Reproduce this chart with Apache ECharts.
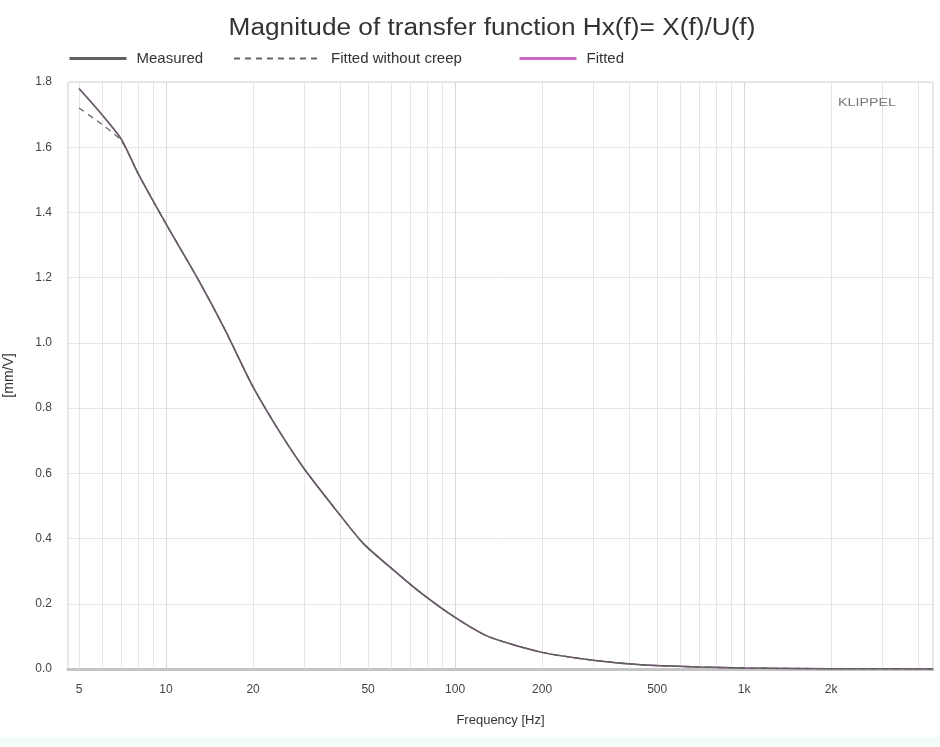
<!DOCTYPE html>
<html>
<head>
<meta charset="utf-8">
<script src="https://cdn.jsdelivr.net/npm/echarts@6/dist/echarts.min.js"></script>
<style>
html,body{margin:0;padding:0;background:#fff;}
#chart{width:940px;height:747px;}
</style>
</head>
<body>
<div id="chart"></div>
<script>
// Frequencies (Hz)
const freqs = [5, 6, 7, 8, 10, 13, 16, 20, 25, 30, 38, 48, 60, 75, 100, 130, 200, 300, 440, 700, 1000, 2000, 4500];
// Magnitude [mm/V]
const measured      = [1.78, 1.70, 1.625, 1.52, 1.365, 1.19, 1.04, 0.865, 0.72, 0.615, 0.497, 0.386, 0.31, 0.238, 0.158, 0.10, 0.051, 0.027, 0.013, 0.006, 0.003, 0.001, 0.0];
const fittedNoCreep = [1.72, 1.67, 1.62, 1.52, 1.365, 1.19, 1.04, 0.865, 0.72, 0.615, 0.497, 0.386, 0.31, 0.238, 0.158, 0.10, 0.051, 0.027, 0.013, 0.006, 0.003, 0.001, 0.0];
const fitted        = [1.78, 1.70, 1.625, 1.52, 1.365, 1.19, 1.04, 0.865, 0.72, 0.615, 0.497, 0.386, 0.31, 0.238, 0.158, 0.10, 0.051, 0.027, 0.013, 0.006, 0.003, 0.001, 0.0];
// Vertical grid lines and x tick labels
const gridFreqs = [5,6,7,8,9,10,20,30,40,50,60,70,80,90,100,200,300,400,500,600,700,800,900,1000,2000,3000,4000];
const xTickValues = [5, 10, 20, 50, 100, 200, 500, 1000, 2000];
const xTickLabels = ['5', '10', '20', '50', '100', '200', '500', '1k', '2k'];
const xMin = 4.58, xMax = 4500;

const pairs = arr => freqs.map((f, i) => [f, arr[i]]);

const gridMarks = gridFreqs.map(f => {
  const idx = xTickValues.indexOf(f);
  return {
    xAxis: f,
    name: idx >= 0 ? xTickLabels[idx] : '',
    lineStyle: { color: (f === 10 || f === 100 || f === 1000) ? '#d9d9d9' : '#e6e6e6', width: 1, type: 'solid' },
    label: { show: idx >= 0 }
  };
});

const FONT = 'Liberation Sans, Arial, sans-serif';
const legendBase = (name, left, width, lw) => ({
  data: [name], left: left, top: 51, padding: 0, itemWidth: width, itemHeight: 14,
  itemStyle: { opacity: 0 },
  lineStyle: { width: lw },
  textStyle: { fontSize: 15, color: '#333', padding: [0, 0, 0, 5], fontFamily: FONT }
});

const chart = echarts.init(document.getElementById('chart'), null, { renderer: 'canvas' });
chart.setOption({
  animation: false,
  backgroundColor: '#ffffff',
  legend: [
    legendBase('Measured', 68, 57, 3),
    legendBase('Fitted without creep', 233, 87, 2),
    legendBase('Fitted', 518, 57, 3)
  ],
  grid: { left: 68, right: 7, top: 82, bottom: 78, outerBoundsMode: 'none', containLabel: false,
          show: true, borderColor: '#d0d0d0', borderWidth: 1 },
  xAxis: {
    type: 'log', logBase: 10, min: xMin, max: xMax,
    name: 'Frequency [Hz]', nameLocation: 'middle', nameGap: 45,
    nameTextStyle: { fontSize: 13, color: '#333', fontFamily: FONT },
    axisLine: { show: true, lineStyle: { color: '#c4c4c4', width: 3 } },
    axisTick: { show: false },
    axisLabel: { show: false },
    splitLine: { show: false },
    minorSplitLine: { show: false }
  },
  yAxis: {
    type: 'value', min: 0, max: 1.8, interval: 0.2,
    name: '[mm/V]', nameLocation: 'middle', nameGap: 52, nameRotate: 90,
    nameTextStyle: { fontSize: 14, color: '#333', fontFamily: FONT },
    axisLine: { show: false },
    axisTick: { show: false },
    axisLabel: { margin: 16, fontSize: 12, color: '#444', fontFamily: FONT, formatter: v => v.toFixed(1) },
    splitLine: { lineStyle: { color: '#e6e6e6', width: 1 } }
  },
  graphic: [
    { type: 'text', x: 492, y: 29, scaleX: 1.14, z: 10,
      style: { text: 'Magnitude of transfer function Hx(f)= X(f)/U(f)', fontSize: 23, fill: '#333',
               fontFamily: FONT, textAlign: 'center', textVerticalAlign: 'middle' } },
    { type: 'text', x: 838, y: 103, scaleX: 1.3, z: 10,
      style: { text: 'KLIPPEL', fontSize: 11, fill: '#777', fontFamily: FONT, textAlign: 'left', textVerticalAlign: 'middle' } },
    { type: 'rect', left: 0, top: 737, shape: { width: 940, height: 10 }, style: { fill: '#f4fcf8' }, z: -1 }
  ],
  series: [
    {
      name: 'grid', type: 'line', data: pairs(measured), symbol: 'none', silent: true,
      lineStyle: { opacity: 0 }, z: 1, legendHoverLink: false,
      markLine: {
        silent: true, symbol: ['none', 'none'], z: 1,
        label: { position: 'start', distance: 15, formatter: '{b}', fontSize: 12, color: '#444', fontFamily: FONT },
        emphasis: { disabled: true },
        data: gridMarks
      }
    },
    {
      name: 'Fitted', type: 'line', data: pairs(fitted), symbol: 'none', smooth: 0.25, z: 3,
      itemStyle: { color: '#c768c7' }, lineStyle: { color: '#c768c7', width: 1.5 }
    },
    {
      name: 'Fitted without creep', type: 'line', data: pairs(fittedNoCreep), symbol: 'none', smooth: 0.25, z: 4,
      itemStyle: { color: '#555' }, lineStyle: { color: '#666', width: 1.3, type: [6, 5] }
    },
    {
      name: 'Measured', type: 'line', data: pairs(measured), symbol: 'none', smooth: 0.25, z: 5,
      itemStyle: { color: '#222' }, lineStyle: { color: '#606060', width: 1.5 }
    }
  ]
});
</script>
</body>
</html>
